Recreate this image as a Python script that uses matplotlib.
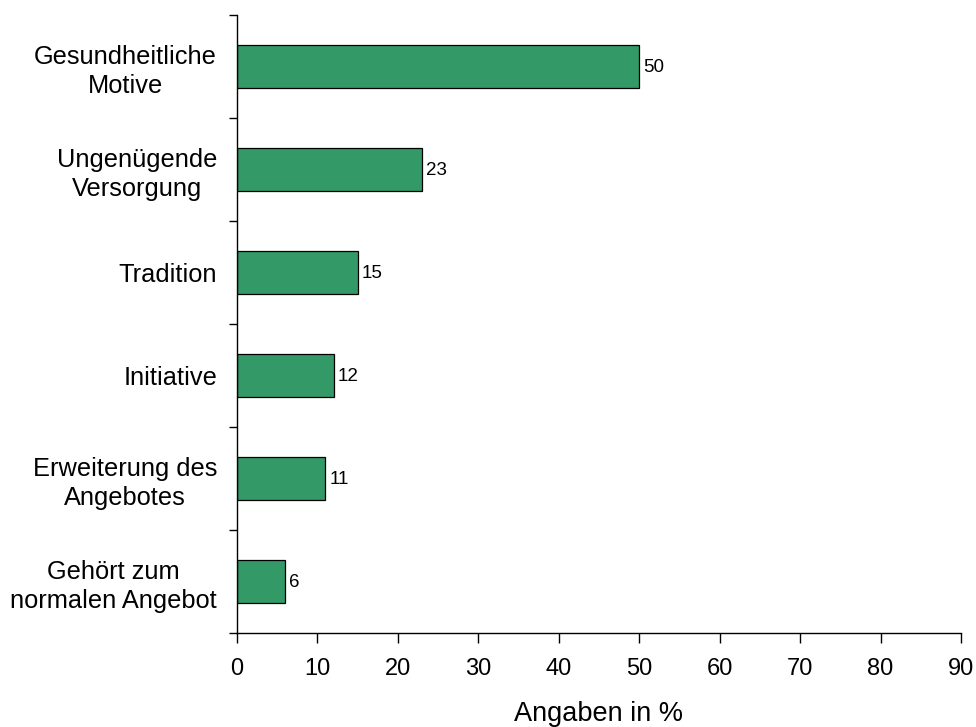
import matplotlib
matplotlib.use("Agg")
import matplotlib.pyplot as plt
import numpy as np

plt.rcParams['font.family'] = ['Liberation Sans', 'DejaVu Sans']

# Reasons, listed top to bottom
categories = [
    "Gesundheitliche\nMotive",
    "Ungenügende\nVersorgung",
    "Tradition",
    "Initiative",
    "Erweiterung des\nAngebotes",
    "Gehört zum\nnormalen Angebot",
]
values = [50, 23, 15, 12, 11, 6]
x_ticks = [0, 10, 20, 30, 40, 50, 60, 70, 80, 90]
x_label = "Angaben in %"

bar_color = "#339966"

fig = plt.figure(figsize=(9.76, 7.27), dpi=100)
ax = fig.add_axes([237 / 976, 1 - 633 / 727, (961 - 237) / 976, (633 - 15) / 727])

n = len(categories)
pos = np.arange(n)[::-1]  # first category at the top

ax.barh(pos, values, height=0.41, color=bar_color, edgecolor="black", linewidth=0.9, zorder=2)

for p, v in zip(pos, values):
    ax.text(v + 0.5, p - 0.01, f"{v}", va="center", ha="left", fontsize=13.5, color="black")

ax.set_xlim(0, 90)
ax.set_ylim(-0.5, n - 0.5)

ax.set_xticks(x_ticks)
ax.set_xticklabels([str(t) for t in x_ticks], fontsize=17)

# major ticks between categories, labels centred on bars
ax.set_yticks(np.arange(-0.5, n, 1.0))
ax.set_yticklabels([])
ax.set_yticks(pos, minor=True)
ax.set_yticklabels(categories, minor=True, fontsize=18.3, multialignment="center",
                   linespacing=1.25)
ax.tick_params(axis="y", which="minor", length=0, pad=14.4)
ax.tick_params(axis="y", which="major", length=6, width=1, direction="out")
ax.tick_params(axis="x", length=7, width=1, direction="out", pad=11)

ax.set_xlabel(x_label, fontsize=19.5, labelpad=15)

for s in ["top", "right"]:
    ax.spines[s].set_visible(False)
for s in ["left", "bottom"]:
    ax.spines[s].set_linewidth(1.0)
    ax.spines[s].set_color("black")

fig.savefig("out.png", dpi=100)
